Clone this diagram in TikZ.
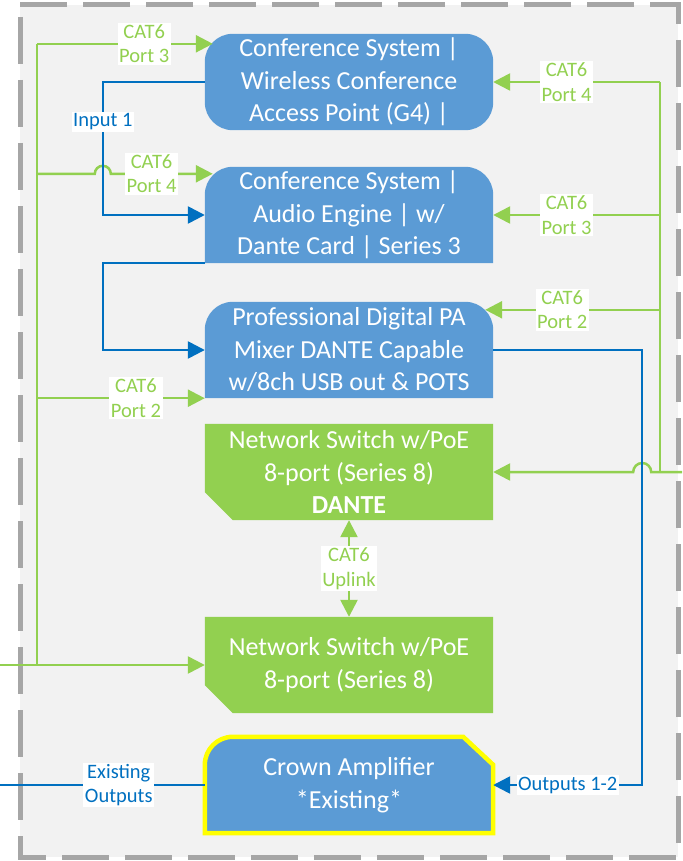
\documentclass[tikz,border=0pt]{standalone}
\usepackage{fontspec}
\setmainfont{Carlito}
\usetikzlibrary{positioning,arrows.meta,calc,backgrounds}
\definecolor{boxblue}{HTML}{5B9BD5}
\definecolor{boxgreen}{HTML}{92D050}
\definecolor{wireblue}{HTML}{0070C0}
\definecolor{areagray}{HTML}{F2F2F2}
\definecolor{dashgray}{HTML}{A6A6A6}
\definecolor{ampframe}{HTML}{FFFF00}
\tikzset{
  dev/.style={minimum width=288pt,minimum height=96pt,inner sep=0pt,align=center,
    text=white,font=\fontsize{26}{32.5}\selectfont},
  lbl/.style={fill=white,inner sep=1.5pt,align=center,font=\fontsize{20.5}{24.5}\selectfont},
  glbl/.style={lbl,text=boxgreen},
  blbl/.style={lbl,text=wireblue},
  arr/.style={-{Triangle[length=17pt,width=17pt]}},
  gwire/.style={line width=2.5pt,draw=boxgreen},
  bwire/.style={line width=2.5pt,draw=wireblue},
  gcable/.style={gwire,arr},
  bcable/.style={bwire,arr},
}

\begin{document}
\begin{tikzpicture}[x=1pt,y=-1pt]
  \useasboundingbox (0,0) rectangle (682,861);
  % devices
  \node[dev] (wap) at (349,82) {Conference System |\\Wireless Conference\\Access Point (G4) |};
  \node[dev] (eng) at (349,215) {Conference System |\\Audio Engine | w/\\Dante Card | Series 3};
  \node[dev] (mixer) at (349,350) {Professional Digital PA\\Mixer DANTE Capable\\w/8ch USB out \& POTS};
  \node[dev] (swd) at (349,472) {Network Switch w/PoE\\8-port (Series 8)\\\textbf{DANTE}};
  \node[dev] (swp) at (349,665) {Network Switch w/PoE\\8-port (Series 8)};
  \node[dev] (amp) at (349,785) {Crown Amplifier\\*Existing*};

  \begin{scope}[on background layer]
    \fill[areagray] (20,5) rectangle (678,857);
    \draw[dashgray,line width=5pt,dash pattern=on 47pt off 16pt,dash phase=-12pt]
      (20,5) rectangle (678,857);
    \fill[boxblue,rounded corners=28pt] (wap.south west) rectangle (wap.north east);
    \foreach \b in {eng,mixer}
      \fill[boxblue] (\b.south west) [rounded corners=28pt] -- (\b.north west)
        -- (\b.north east) [sharp corners] -- (\b.south east) -- cycle;
    \foreach \b in {swd,swp}
      \fill[boxgreen] (\b.north west) -- (\b.north east) -- (\b.south east)
        -- ($(\b.south west)+(28,0)$) -- ($(\b.south west)+(0,-28)$) -- cycle;
    \filldraw[fill=boxblue,draw=ampframe,line width=4.5pt]
      (amp.south west) [rounded corners=28pt] -- (amp.north west) [sharp corners]
      -- ($(amp.north east)+(-30,0)$) -- ($(amp.north east)+(0,28)$)
      -- (amp.south east) -- cycle;
  \end{scope}

  % cable ends and corners
  \coordinate (lin) at (0,665);
  \coordinate (lbus) at (37,665);
  \coordinate (rin) at (682,472);
  \coordinate (rbus) at (660,472);
  \coordinate (exout) at (0,785);
  \coordinate (wapL) at ($(wap.north west)+(8,10)$);
  \coordinate (engL) at ($(eng.north west)+(8,7)$);
  \coordinate (mixR) at ($(mixer.north east)+(-8,8)$);
  \coordinate (bin) at ($(wap.west)+(-102,0)$);
  \coordinate (bout) at ($(mixer.east)+(149,0)$);

  % green CAT6, left side
  \draw[gcable] (lin) -- (swp.west);
  \draw[gwire] (lbus) -- (lbus |- wapL);
  \draw[gcable] (lbus |- wapL) -- (wapL) node[glbl,pos=0.61] {CAT6\\Port 3};
  \draw[gcable] (lbus |- engL) -- ($(bin |- engL)+(-8,0)$)
    arc[start angle=180,end angle=0,radius=8pt] -- (engL) node[glbl,pos=0.4] {CAT6\\Port 4};
  \draw[gcable] (lbus |- mixer.south west) -- (mixer.south west)
    node[glbl,pos=0.59] {CAT6\\Port 2};

  % green CAT6, right side
  \draw[gwire] (rbus) -- (rbus |- wap.east);
  \foreach \dst/\prt in {wap.east/4, eng.east/3, mixR/2}
    \draw[gcable] (rbus |- \dst) -- (\dst) node[glbl,pos=0.56] {CAT6\\Port \prt};
  \draw[gcable] (rin) -- ($(bout |- rin)+(9,0)$)
    arc[start angle=0,end angle=180,radius=9pt] -- (swd.east);

  % uplink
  \draw[gwire,{Triangle[length=17pt,width=17pt]}-{Triangle[length=17pt,width=17pt]}]
    (swd.south) -- (swp.north) node[glbl,midway] {CAT6\\Uplink};

  % audio
  \draw[bcable] (wap.west) -- (bin) |- (eng.west) node[blbl,pos=0.15] {Input 1};
  \draw[bcable] (eng.south west) -- ++(-102,0) |- (mixer.west);
  \draw[bcable] (mixer.east) -- (bout) |- (amp.east) node[blbl,pos=0.75] {Outputs 1-2};
  \draw[bwire] (amp.west) -- (exout) node[blbl,pos=0.42] {Existing\\Outputs};
\end{tikzpicture}
\end{document}
